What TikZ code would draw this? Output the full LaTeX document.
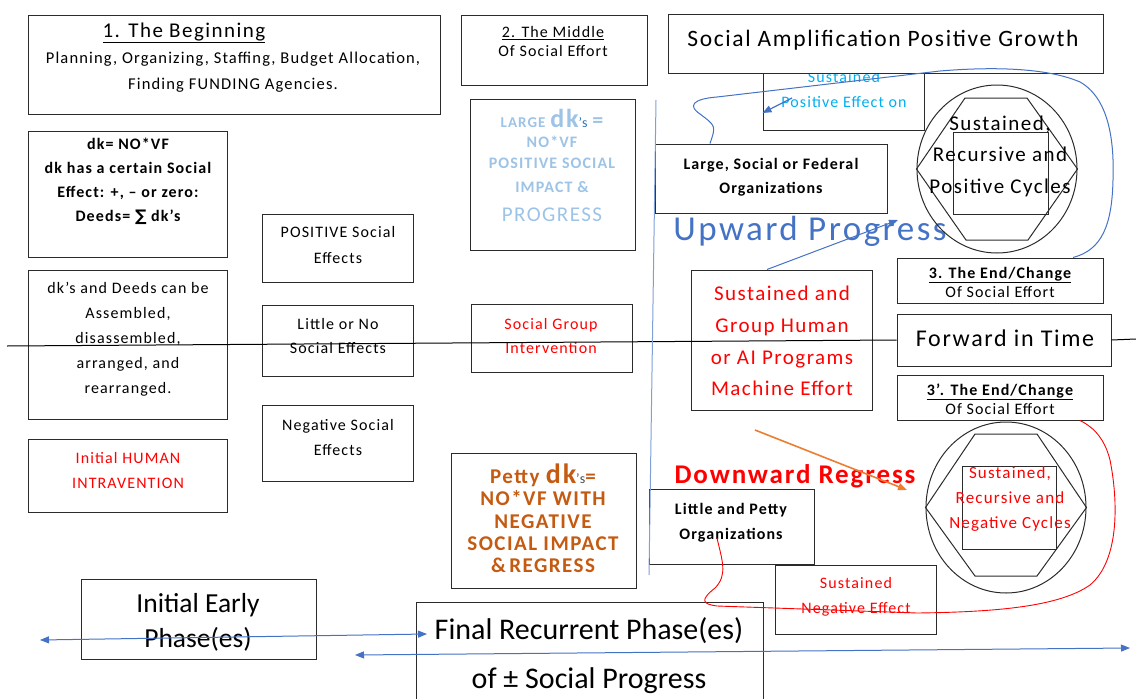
\documentclass[tikz,border=0pt]{standalone}
\usepackage{fontspec}
\setmainfont{Carlito}[LetterSpace=7]
\newfontfamily\narrowfont{Carlito}
\newfontfamily\symfont{DejaVu Sans}
\usetikzlibrary{arrows.meta,shapes.geometric}
\definecolor{boxline}{HTML}{2B2B2B}
\definecolor{bluec}{HTML}{4472C4}
\definecolor{vlinec}{HTML}{7F9FD8}
\definecolor{ltblue}{HTML}{9DC3E6}
\definecolor{dkblue}{HTML}{2E75B6}
\definecolor{cyanc}{HTML}{00B0F0}
\definecolor{brownc}{HTML}{C55A11}
\definecolor{orangec}{HTML}{ED7D31}
\newcommand{\fs}[2]{\fontsize{#1}{#2}\selectfont}
\tikzset{
  box/.style={draw=boxline, line width=1pt, fill=white, inner sep=0pt},
  txt/.style={align=center, inner sep=0pt},
  cyc/.style={draw=boxline, line width=1pt, ellipse, inner sep=0pt},
  arrowend/.style={-{Triangle[length=9pt,width=7pt]}},
  arrowboth/.style={{Triangle[length=9pt,width=7pt]}-{Triangle[length=9pt,width=7pt]}},
}
\begin{document}
\begin{tikzpicture}[x=1pt, y=-1pt]
\useasboundingbox (0,0) rectangle (1136,699);

% 1. the beginning
\node[box, minimum width=412, minimum height=99] (begin) at (234,64.5) {};
\node[txt, font=\fs{21}{24}] (begint) at (184,33) {\underline{1. The Beginning}};
\node[txt, font=\fs{16.5}{26}] (begins) at (233,72) {Planning, Organizing, Staffing, Budget Allocation,\\Finding FUNDING Agencies.};

\node[box, minimum width=199, minimum height=126] (dkdef) at (127.5,194) {};
\node[txt, font=\bfseries\fs{16}{24}] (dkdeft) at (128,181) {dk= NO*VF\\dk has a certain Social\\Effect: +, – or zero:\\Deeds= {\symfont ∑} dk’s};

\node[box, minimum width=199, minimum height=149] (deeds) at (127.5,344.5) {};
\node[txt, font=\fs{16}{25}] (deedst) at (128,339) {dk’s and Deeds can be\\Assembled,\\disassembled,\\arranged, and\\rearranged.};

\node[box, minimum width=199, minimum height=73] (human) at (127.5,475.5) {};
\node[txt, font=\fs{16}{25}, text=red] (humant) at (128,470.5) {Initial HUMAN\\INTRAVENTION};

\node[box, minimum width=151, minimum height=68] (pos) at (337.5,248) {};
\node[txt, font=\fs{16}{26}] (post) at (338,245) {POSITIVE Social\\Effects};
\node[box, minimum width=151, minimum height=71] (little) at (337.5,340.5) {};
\node[txt, font=\fs{16}{24}] (littlet) at (338,336) {Little or No\\Social Effects};
\node[box, minimum width=151, minimum height=76] (neg) at (337.5,443) {};
\node[txt, font=\fs{16}{25}] (negt) at (338,437.5) {Negative Social\\Effects};

% 2. the middle
\node[box, minimum width=186, minimum height=70] (middle) at (554,50) {};
\node[txt, font=\fs{16}{19}] (middlet) at (553,41.5) {\underline{2. The Middle}\\Of Social Effort};

\node[box, minimum width=165, minimum height=151] (large) at (552.5,174.5) {};
\node[txt, font=\bfseries\fs{16}{20.5}, text=ltblue] (larget) at (552,165) {{\fs{15}{20.5}LARGE} {\fs{26}{20.5}dk}{\mdseries\fs{14}{20.5}\color{dkblue}'s} {\fs{22}{20.5}=}\\NO*VF\\POSITIVE SOCIAL\\[3.5pt]IMPACT \&\\[8.5pt]{\mdseries\fs{21}{20.5}PROGRESS}};

\node[box, minimum width=161, minimum height=68] (sgi) at (551.5,338) {};
\node[txt, font=\fs{16}{24}, text=red] (sgit) at (551,336) {Social Group\\Intervention};

\node[box, minimum width=185, minimum height=135] (petty) at (543.5,520.5) {};
\node[txt, font=\bfseries\fs{21}{22.3}, text=brownc] (pettyt) at (543,518.5) {Petty {\fs{28}{22.3}dk}{\mdseries\fs{14}{22.3}\color{black!70}'s}=\\NO*VF WITH\\NEGATIVE\\SOCIAL IMPACT\\\&\,REGRESS};

% upper right
\node[box, minimum width=161, minimum height=57] (spe) at (843.5,101.5) {};
\node[txt, font=\fs{16}{25}, text=cyanc] (spet) at (844,90) {Sustained\\Positive Effect on};
\node[box, minimum width=435, minimum height=59] (amp) at (885.5,43.5) {};
\node[txt, font=\fs{23.5}{28}] (ampt) at (883,40) {Social Amplification Positive Growth};

\node[box, minimum width=232, minimum height=69] (lsf) at (771,178.5) {};
\node[txt, font=\bfseries\fs{16}{24}] (lsft) at (771,177) {Large, Social or Federal\\Organizations};

\node[txt, font=\fs{35}{40}, text=bluec] (up) at (810,231) {Upward Progress};

\node[cyc, minimum width=160, minimum height=168] (pcyc) at (997,169) {};
\draw[boxline, line width=1pt] (pcyc.west) -- (965,98) -- (1027,98) -- (pcyc.east) -- (1028,240) -- (966,240) -- cycle;
\draw[boxline, line width=1pt] (953,132) rectangle (1048,214);
\node[txt, font=\fs{21}{31.5}] (pcyct) at (1000,156) {Sustained,\\Recursive and\\Positive Cycles};

\node[box, minimum width=206, minimum height=45] (end3) at (1000,280.5) {};
\node[txt, font=\fs{16}{19}] (end3t) at (1000,282) {\textbf{\underline{3. The End/Change}}\\Of Social Effort};
\node[box, minimum width=214, minimum height=52] (fwd) at (1004,340) {};
\node[txt, font=\fs{24}{28}] (fwdt) at (1005,338) {Forward in Time};
\node[box, minimum width=206, minimum height=45] (end3b) at (1000,397.5) {};
\node[txt, font=\fs{16}{19}] (end3bt) at (1000,399) {\textbf{\underline{3’. The End/Change}}\\Of Social Effort};

\node[box, minimum width=181, minimum height=140] (sgh) at (781.5,340) {};
\node[txt, font=\fs{21}{31.7}, text=red] (sght) at (782,341) {Sustained and\\Group Human\\or AI Programs\\Machine Effort};

% lower right
\node[cyc, minimum width=160, minimum height=171] (ncyc) at (1006,507.5) {};
\draw[boxline, line width=1pt] (ncyc.west) -- (975,434) -- (1037,434) -- (ncyc.east) -- (1037,576) -- (975,576) -- cycle;
\draw[boxline, line width=1pt] (962,466) rectangle (1056,549);
\node[txt, font=\fs{17}{25}, text=red] (ncyct) at (1010,499) {Sustained,\\Recursive and\\Negative Cycles};

\node[txt, font=\bfseries\fs{27}{30}, text=red] (down) at (795,476) {Downward Regress};

\node[box, minimum width=165, minimum height=75] (lpo) at (731.5,527) {};
\node[txt, font=\bfseries\fs{16}{25}] (lpot) at (731,522.5) {Little and Petty\\Organizations};
\node[box, minimum width=161, minimum height=69] (sne) at (855.5,599.5) {};
\node[txt, font=\fs{16}{25}, text=red] (snet) at (856,596.5) {Sustained\\Negative Effect};

% phases
\node[box, minimum width=235, minimum height=80] (early) at (198.5,619) {};
\node[txt, font=\narrowfont\fs{27.5}{35}] (earlyt) at (198,622) {Initial Early\\Phase(es)};
\node[box, minimum width=347, minimum height=120] (final) at (589.5,662) {};
\node[txt, font=\narrowfont\fs{30}{49}] (finalt) at (589,656) {Final Recurrent Phase(es)\\of ± Social Progress};

% time line
\coordinate (tl) at (7,346);
\coordinate (tr) at (1136,339);
\draw[black, line width=1pt] (tl) -- (fwd.west);
\draw[black, line width=1pt] (fwd.east) -- (tr);

% divider
\coordinate (vtop) at (656,100);
\coordinate (vbot) at (649,575);
\draw[vlinec, line width=1pt] (vtop) -- (vbot);

% positive loop
\draw[bluec, line width=1pt] (lsf.north -| 710,0) .. controls (716,126) .. (700,114) .. controls (688,106) and (692,99) .. (717,97) -- (940,71) .. controls (1000,66) and (1050,69) .. (1080,82) .. controls (1112,100) and (1114,150) .. (1113,180) .. controls (1112,225) and (1102,250) .. (end3.north -| 1073,0);
\coordinate (spein) at (792,98);
\draw[bluec, line width=1.2pt, arrowend] (spein) -- (spe.west |- 0,113);
\coordinate (uptip) at (898,220);
\draw[bluec, line width=1pt, arrowend] (sgh.north -| 767,0) -- (uptip);

% negative loop
\coordinate (ors) at (755,430);
\coordinate (ore) at (907,490);
\draw[orangec, line width=1.6pt, arrowend] (ors) -- (ore);
\coordinate (lpoin) at (717,538);
\draw[red, line width=0.9pt] (lpoin) .. controls (722,560) and (728,575) .. (715,588) .. controls (700,600) and (702,604) .. (717,606) -- (917,613) .. controls (1000,612) and (1060,606) .. (1090,585) .. controls (1120,560) and (1118,500) .. (1110,460) .. controls (1105,440) and (1095,428) .. (end3b.south -| 1080,0);

% phase arrows
\coordinate (pa) at (40,640);
\coordinate (pb) at (427,634);
\coordinate (pc) at (355,655);
\coordinate (pd) at (1130,648);
\draw[bluec, line width=1pt, arrowboth] (pa) -- (pb);
\draw[bluec, line width=1pt, arrowboth] (pc) -- (pd);
\end{tikzpicture}
\end{document}
